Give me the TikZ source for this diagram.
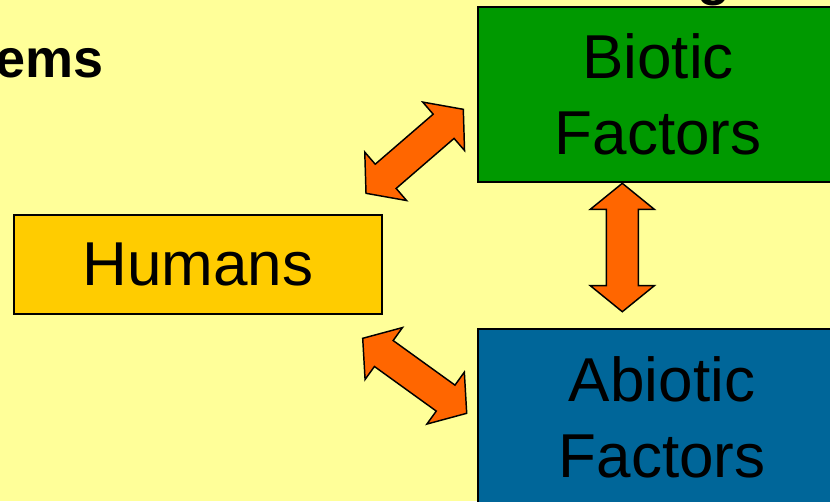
\documentclass[tikz,border=0pt]{standalone}
\usepackage{fontspec}
\setmainfont{Liberation Sans}
\usetikzlibrary{calc}

\definecolor{slidebg}{HTML}{FFFF99}
\definecolor{humanfill}{HTML}{FFCC00}
\definecolor{bioticfill}{HTML}{009900}
\definecolor{abioticfill}{HTML}{006699}
\definecolor{arroworange}{HTML}{FF6600}

\tikzset{
  factorbox/.style={draw=black, line width=1.1pt, inner sep=0pt, align=center,
    text=black, font=\fontsize{46.5pt}{57pt}\selectfont},
  blockarrow/.style={draw=black, line width=1.1pt, fill=arroworange, line join=miter},
  titletext/.style={font=\fontsize{40.5pt}{48pt}\selectfont\bfseries, inner sep=0pt, text=black}
}

% Block double arrow between two named coordinates:
% head length 26px, head width 64px, shaft width 32px.
\newcommand\blockdoublearrow[2]{%
  \coordinate (#1-hd) at ($(#1)!19.5pt!(#2)$);
  \coordinate (#2-hd) at ($(#2)!19.5pt!(#1)$);
  \draw[blockarrow] (#1)
    -- ($(#1-hd)!24pt!90:(#2)$) -- ($(#1-hd)!12pt!90:(#2)$)
    -- ($(#2-hd)!12pt!-90:(#1)$) -- ($(#2-hd)!24pt!-90:(#1)$)
    -- (#2)
    -- ($(#2-hd)!24pt!90:(#1)$) -- ($(#2-hd)!12pt!90:(#1)$)
    -- ($(#1-hd)!12pt!-90:(#2)$) -- ($(#1-hd)!24pt!-90:(#2)$)
    -- cycle;
}

\begin{document}
\begin{tikzpicture}[x=0.75pt, y=-0.75pt]
  \useasboundingbox (0,0) rectangle (830,501);
  \clip (0,0) rectangle (830,501);
  \fill[slidebg] (0,0) rectangle (830,501);

  % title fragments
  \node[titletext, anchor=base east] (title) at (104,77) {ems};
  \node[titletext, anchor=base] (title2) at (714,-6) {g};

  % boxes
  \node[factorbox, fill=humanfill, minimum width=276pt, minimum height=74.25pt]
    (humans) at (198,264.5) {Humans};
  \node[factorbox, fill=bioticfill, minimum width=270pt, minimum height=131.25pt]
    (biotic) at (658,94.5) {Biotic\\Factors};
  \node[factorbox, fill=abioticfill, minimum width=276pt, minimum height=132pt]
    (abiotic) at (662,417) {Abiotic\\Factors};

  % arrow ends
  \coordinate (hb-a) at (366,193.3);
  \coordinate (hb-b) at (463.3,109.3);
  \coordinate (ha-a) at (362.7,338.3);
  \coordinate (ha-b) at (466.7,413.3);
  \coordinate (ba-a) at (622.3,183.3);
  \coordinate (ba-b) at (622.3,311.7);

  \blockdoublearrow{hb-a}{hb-b}
  \blockdoublearrow{ha-a}{ha-b}
  \blockdoublearrow{ba-a}{ba-b}
\end{tikzpicture}
\end{document}
